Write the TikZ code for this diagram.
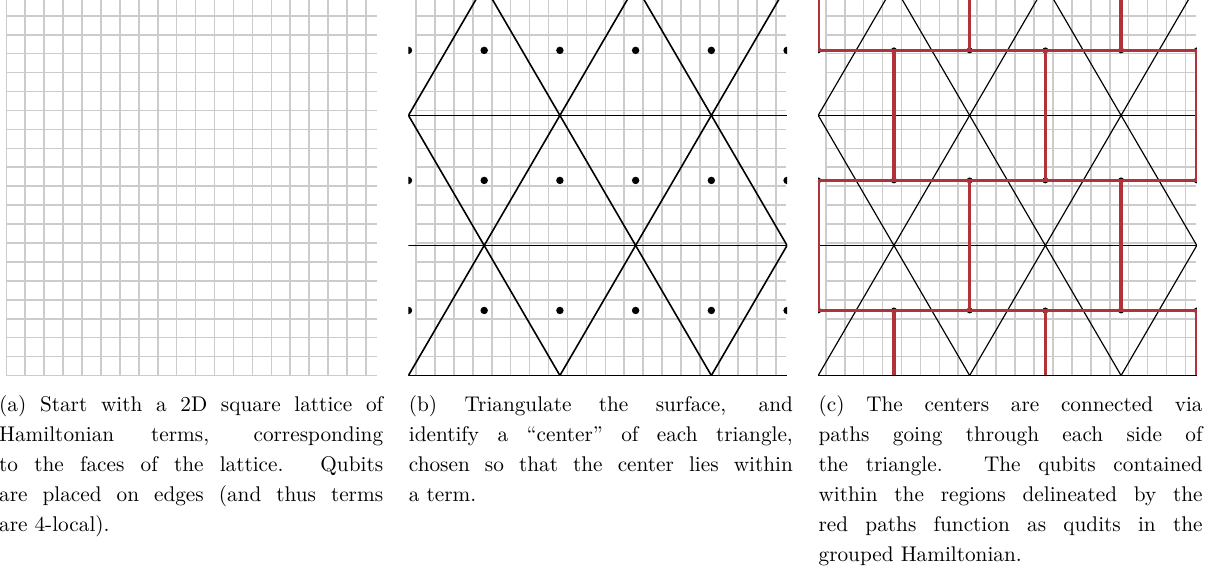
\documentclass[tikz,border=0pt]{standalone}
\usepackage{xcolor}
\definecolor{pathred}{RGB}{178,50,58}
\definecolor{gridgray}{RGB}{204,204,204}
\def\trih{6.87}
\tikzset{
  gridline/.style={draw=gridgray, line width=0.75pt, step=1},
  triline/.style={draw=black, line width=0.75pt},
  trithin/.style={draw=black, line width=0.55pt},
  centerdot/.style={circle, fill=black, inner sep=0pt, minimum size=3.5pt},
  smalldot/.style={circle, fill=black, inner sep=0pt, minimum size=2.8pt},
  redpath/.style={draw=pathred, line width=1.5pt},
  captext/.style={anchor=base west, inner sep=0pt, font=\fontsize{10}{14.1}\selectfont},
}
\hbadness=10000
\hfuzz=5pt
\begin{document}
\begin{tikzpicture}[x=8.908pt,y=8.908pt]
\path[use as bounding box, fill=white] (-0.333,-10.116) rectangle (63.535,19.836);

% ---------- (a) ----------
\begin{scope}
  \clip (-0.4,-0.1) rectangle (19.6,19.836);
  \draw[gridline] (0,0) grid (19.56,19.9);
\end{scope}

% ---------- (b) ----------
\begin{scope}[shift={(21.645,0)}]
  \clip (-0.4,-0.1) rectangle (19.6,19.836);
  \draw[gridline] (0,0) grid (19.56,19.9);
  \foreach \k in {-2,...,3} \draw[triline] ({-0.4+8*\k},0) -- ++(12,{3*\trih});
  \foreach \k in {0,...,5} \draw[triline] ({-0.4+8*\k},0) -- ++(-12,{3*\trih});
  \foreach \r in {0,1,2} \draw[triline] (-0.4,{\r*\trih}) -- (19.6,{\r*\trih});
  \foreach \r in {0,1,2} \foreach \k in {0,...,5}
    \node[centerdot] (b\r\k) at ({-0.4+4*\k},{(\r+0.5)*\trih}) {};
\end{scope}

% ---------- (c) ----------
\begin{scope}[shift={(43.29,0)}]
  \clip (-0.4,-0.1) rectangle (19.6,19.836);
  \draw[gridline] (0,0) grid (19.56,19.9);
  \foreach \k in {-2,...,3} \draw[trithin] ({-0.4+8*\k},0) -- ++(12,{3*\trih});
  \foreach \k in {0,...,5} \draw[trithin] ({-0.4+8*\k},0) -- ++(-12,{3*\trih});
  \foreach \r in {0,1,2} \draw[trithin] (-0.4,{\r*\trih}) -- (19.6,{\r*\trih});
  \foreach \r in {0,1,2} \foreach \k in {0,...,5}
    \node[smalldot] (c\r\k) at ({-0.4+4*\k},{(\r+0.5)*\trih}) {};
  \coordinate (ct0) at (-0.4,20.3);
  \coordinate (ct2) at (7.6,20.3);
  \coordinate (ct4) at (15.6,20.3);
  \coordinate (cb1) at (3.6,0);
  \coordinate (cb3) at (11.6,0);
  \coordinate (cb5) at (19.6,0);
  \foreach \r in {0,1,2} \draw[redpath] (c\r0.center) -- (c\r5.center);
  \foreach \k in {0,2,4} {
    \draw[redpath] (c0\k.center) -- (c1\k.center);
    \draw[redpath] (c2\k.center) -- (ct\k);
  }
  \foreach \k in {1,3,5} {
    \draw[redpath] (c1\k.center) -- (c2\k.center);
    \draw[redpath] (c0\k.center) -- (cb\k);
  }
\end{scope}

% ---------- captions ----------
\node[captext] (capa) at (-0.4,-1.91) {\parbox[t]{180.7pt}{(a) Start with a 2D square lattice of\linebreak
Hamiltonian terms, corresponding\linebreak
to the faces of the lattice. Qubits\linebreak
are placed on edges (and thus terms\linebreak
are 4-local).}};
\node[captext] (capb) at (21.245,-1.91) {\parbox[t]{180.7pt}{(b) Triangulate the surface, and\linebreak
identify a “center” of each triangle,\linebreak
chosen so that the center lies within\linebreak
a term.}};
\node[captext] (capc) at (42.89,-1.91) {\parbox[t]{180.7pt}{(c) The centers are connected via\linebreak
paths going through each side of\linebreak
the triangle. The qubits contained\linebreak
within the regions delineated by the\linebreak
red paths function as qudits in the\linebreak
grouped Hamiltonian.}};
\end{tikzpicture}
\end{document}
